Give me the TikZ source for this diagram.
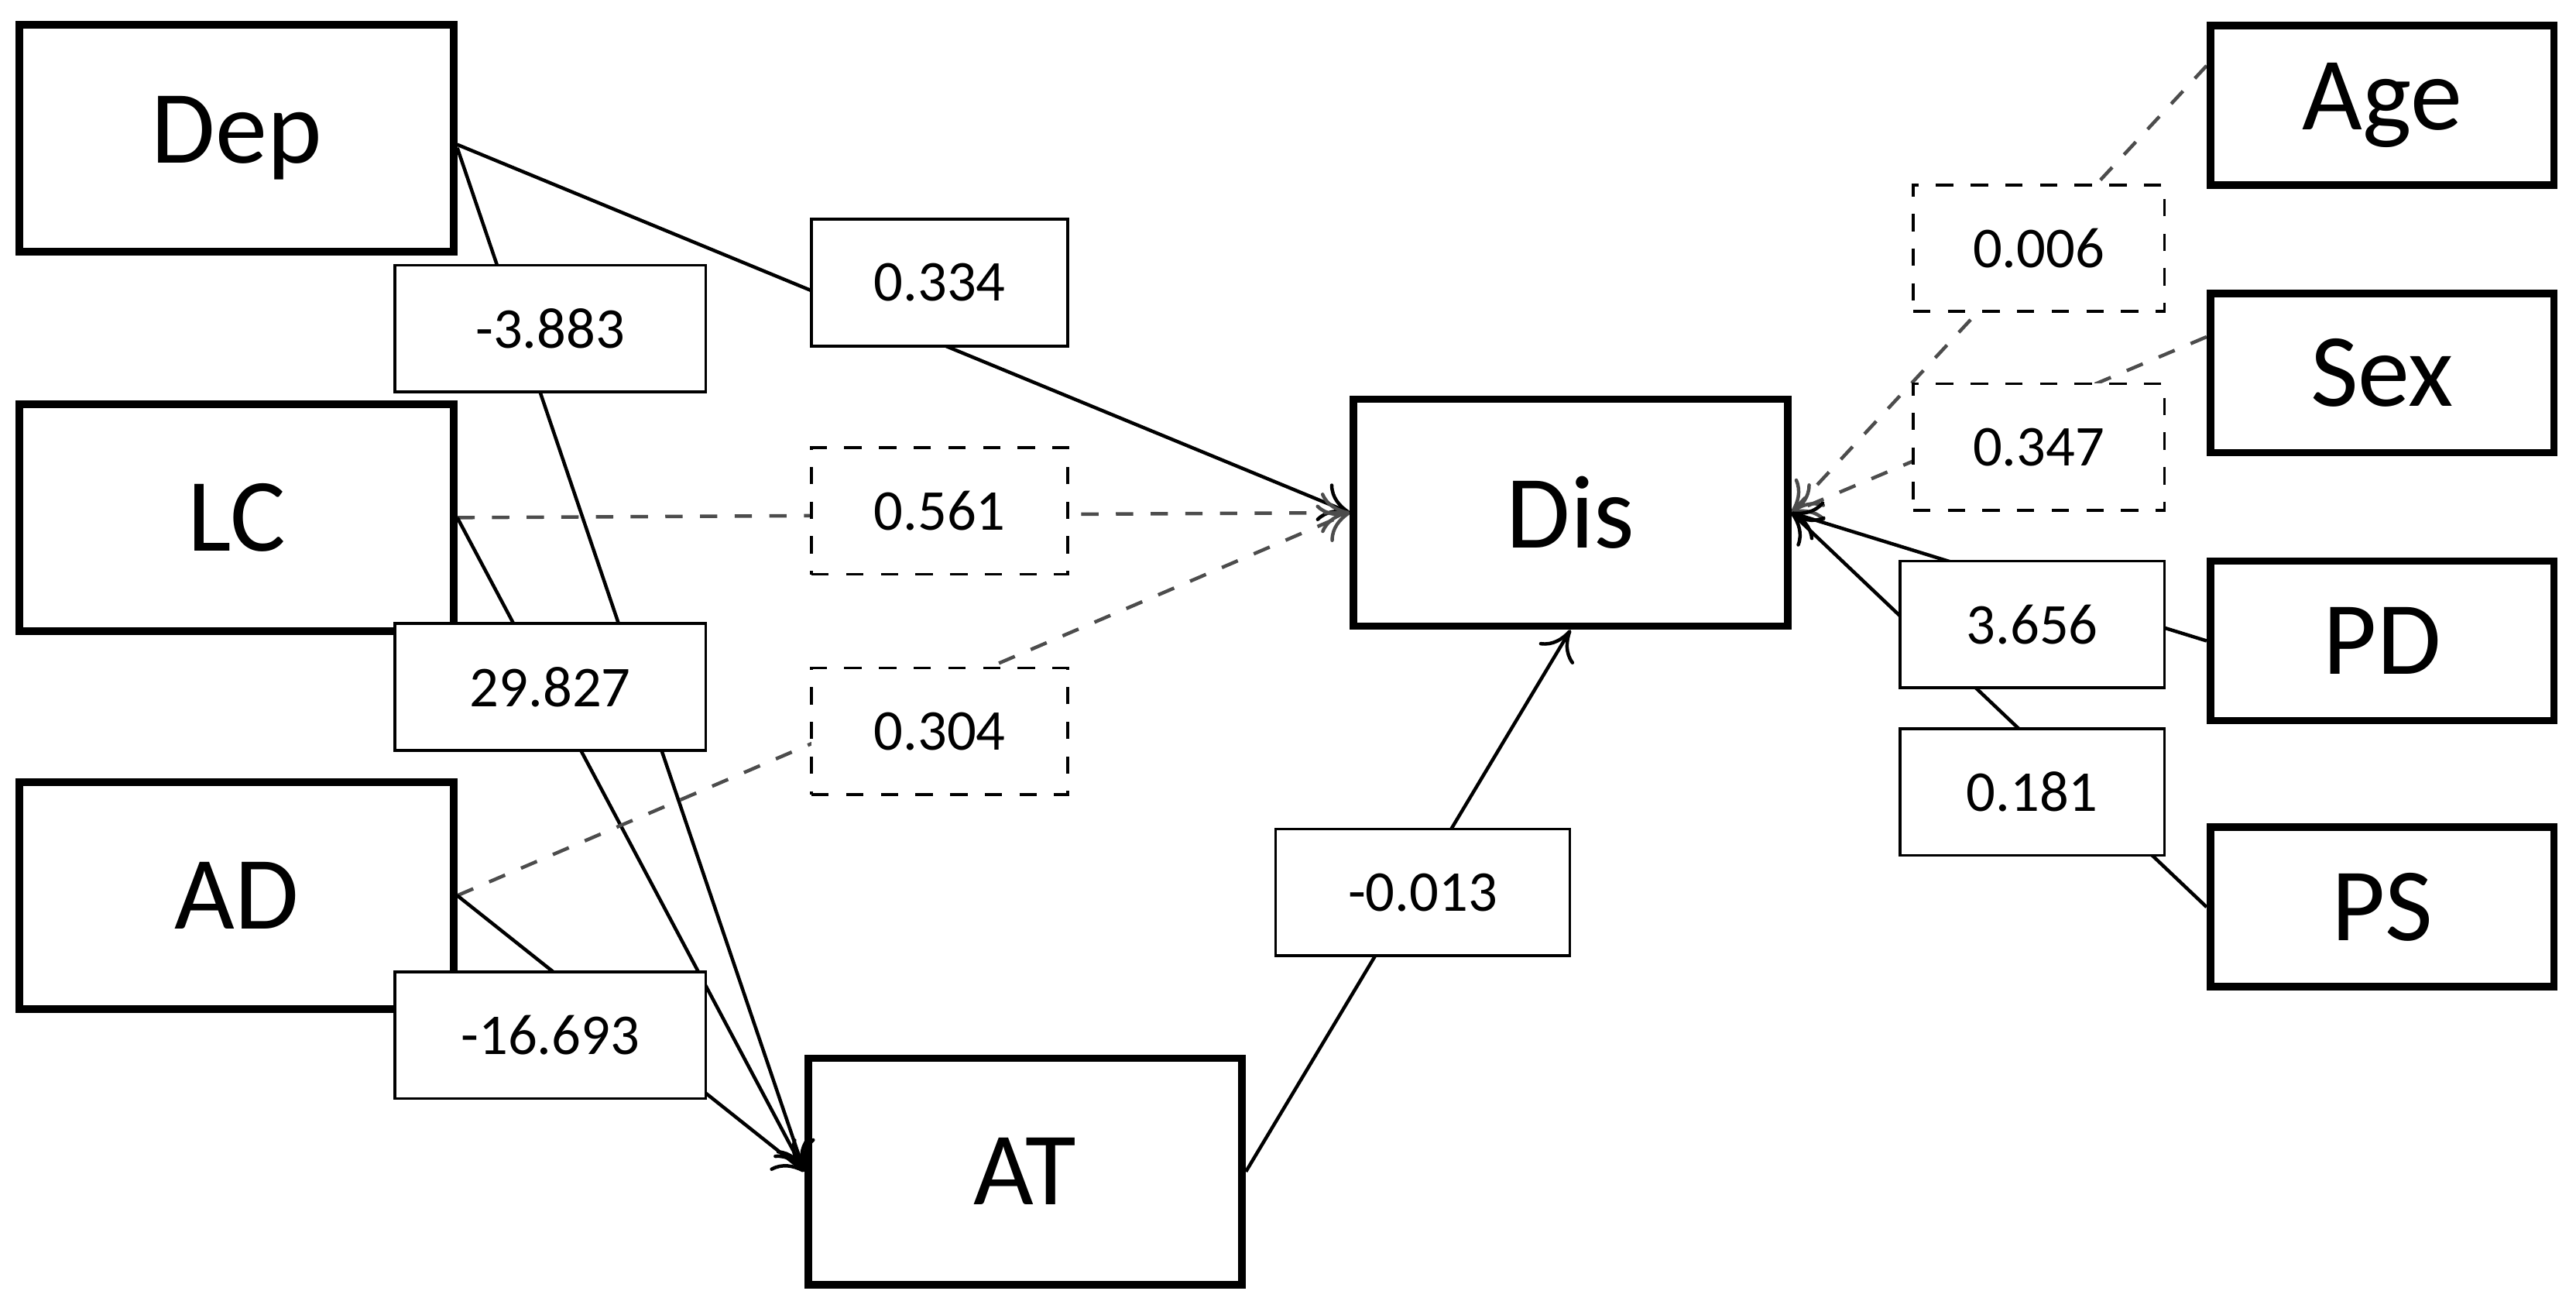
\documentclass[tikz,border=0pt]{standalone}
\usepackage{fontspec}
\setmainfont{Carlito}
\usetikzlibrary{arrows.meta,backgrounds,calc}

\begin{document}
\begin{tikzpicture}
[x=0.01cm, y=-0.01cm,
 every node/.style = {inner sep=0pt},
 var/.style   = {draw, line width=1.3pt, minimum width=2.64cm, minimum height=1.38cm, font=\fontsize{18}{20}\selectfont},
 cov/.style   = {draw, line width=1.3pt, minimum width=2.09cm, minimum height=0.97cm, font=\fontsize{18}{20}\selectfont},
 coef/.style  = {draw, fill=white, line width=0.5pt, minimum height=0.77cm, font=\fontsize{10}{12}\selectfont},
 dcoef/.style = {coef, dashed},
 path/.style  = {line width=0.6pt, -{To[length=5pt,width=7pt]}},
 dpath/.style = {path, dashed, draw=black!70},
]
\useasboundingbox (0,0) rectangle (1568,800);

% Variables
\node[var] (dep) at (144,84) {Dep};
\node[var] (lc)  at (144,315) {LC};
\node[var] (ad)  at (144,545) {AD};
\node[var] (at)  at (624,713) {AT};
\node[var] (dis) at (956,312) {Dis};

% Covariates
\node[cov] (age) at (1450,64) {Age};
\node[cov] (sex) at (1450,227) {Sex};
\node[cov] (pd)  at (1450,390) {PD};
\node[cov] (ps)  at (1450,552) {PS};

% Coefficients
\node[coef, minimum width=1.56cm]  (cdepdis) at (572,172) {0.334};
\node[coef, minimum width=1.89cm]  (cdepat)  at (335,200) {-3.883};
\node[dcoef, minimum width=1.56cm] (clcdis)  at (572,311) {0.561};
\node[coef, minimum width=1.89cm]  (clcat)   at (335,418) {29.827};
\node[dcoef, minimum width=1.56cm] (caddis)  at (572,445) {0.304};
\node[coef, minimum width=1.89cm]  (cadat)   at (335,630) {-16.693};
\node[coef, minimum width=1.79cm]  (catdis)  at (866,543) {-0.013};
\node[dcoef, minimum width=1.53cm] (cage)    at (1241,151) {0.006};
\node[dcoef, minimum width=1.53cm] (csex)    at (1241,272) {0.347};
\node[coef, minimum width=1.61cm]  (cpd)     at (1237,380) {3.656};
\node[coef, minimum width=1.61cm]  (cps)     at (1237,482) {0.181};

%%%%%%%%%% PATHS
\begin{pgfonlayer}{background}
  \draw[path]  ($(dep.east)+(0,4)$) -- (dis.west);
  \draw[path]  ($(dep.east)+(0,6)$) -- (at.west);
  \draw[dpath] (lc.east) -- (dis.west);
  \draw[path]  (lc.east) -- (at.west);
  \draw[dpath] (ad.east) -- (dis.west);
  \draw[path]  (ad.east) -- (at.west);
  \draw[path]  (at.east) -- (dis.south);
  \draw[dpath] ($(age.west)+(0,-24)$) -- (dis.east);
  \draw[dpath] ($(sex.west)+(0,-22)$) -- (dis.east);
  \draw[path]  (pd.west) -- (dis.east);
  \draw[path]  (ps.west) -- (dis.east);
\end{pgfonlayer}

\end{tikzpicture}
\end{document}
